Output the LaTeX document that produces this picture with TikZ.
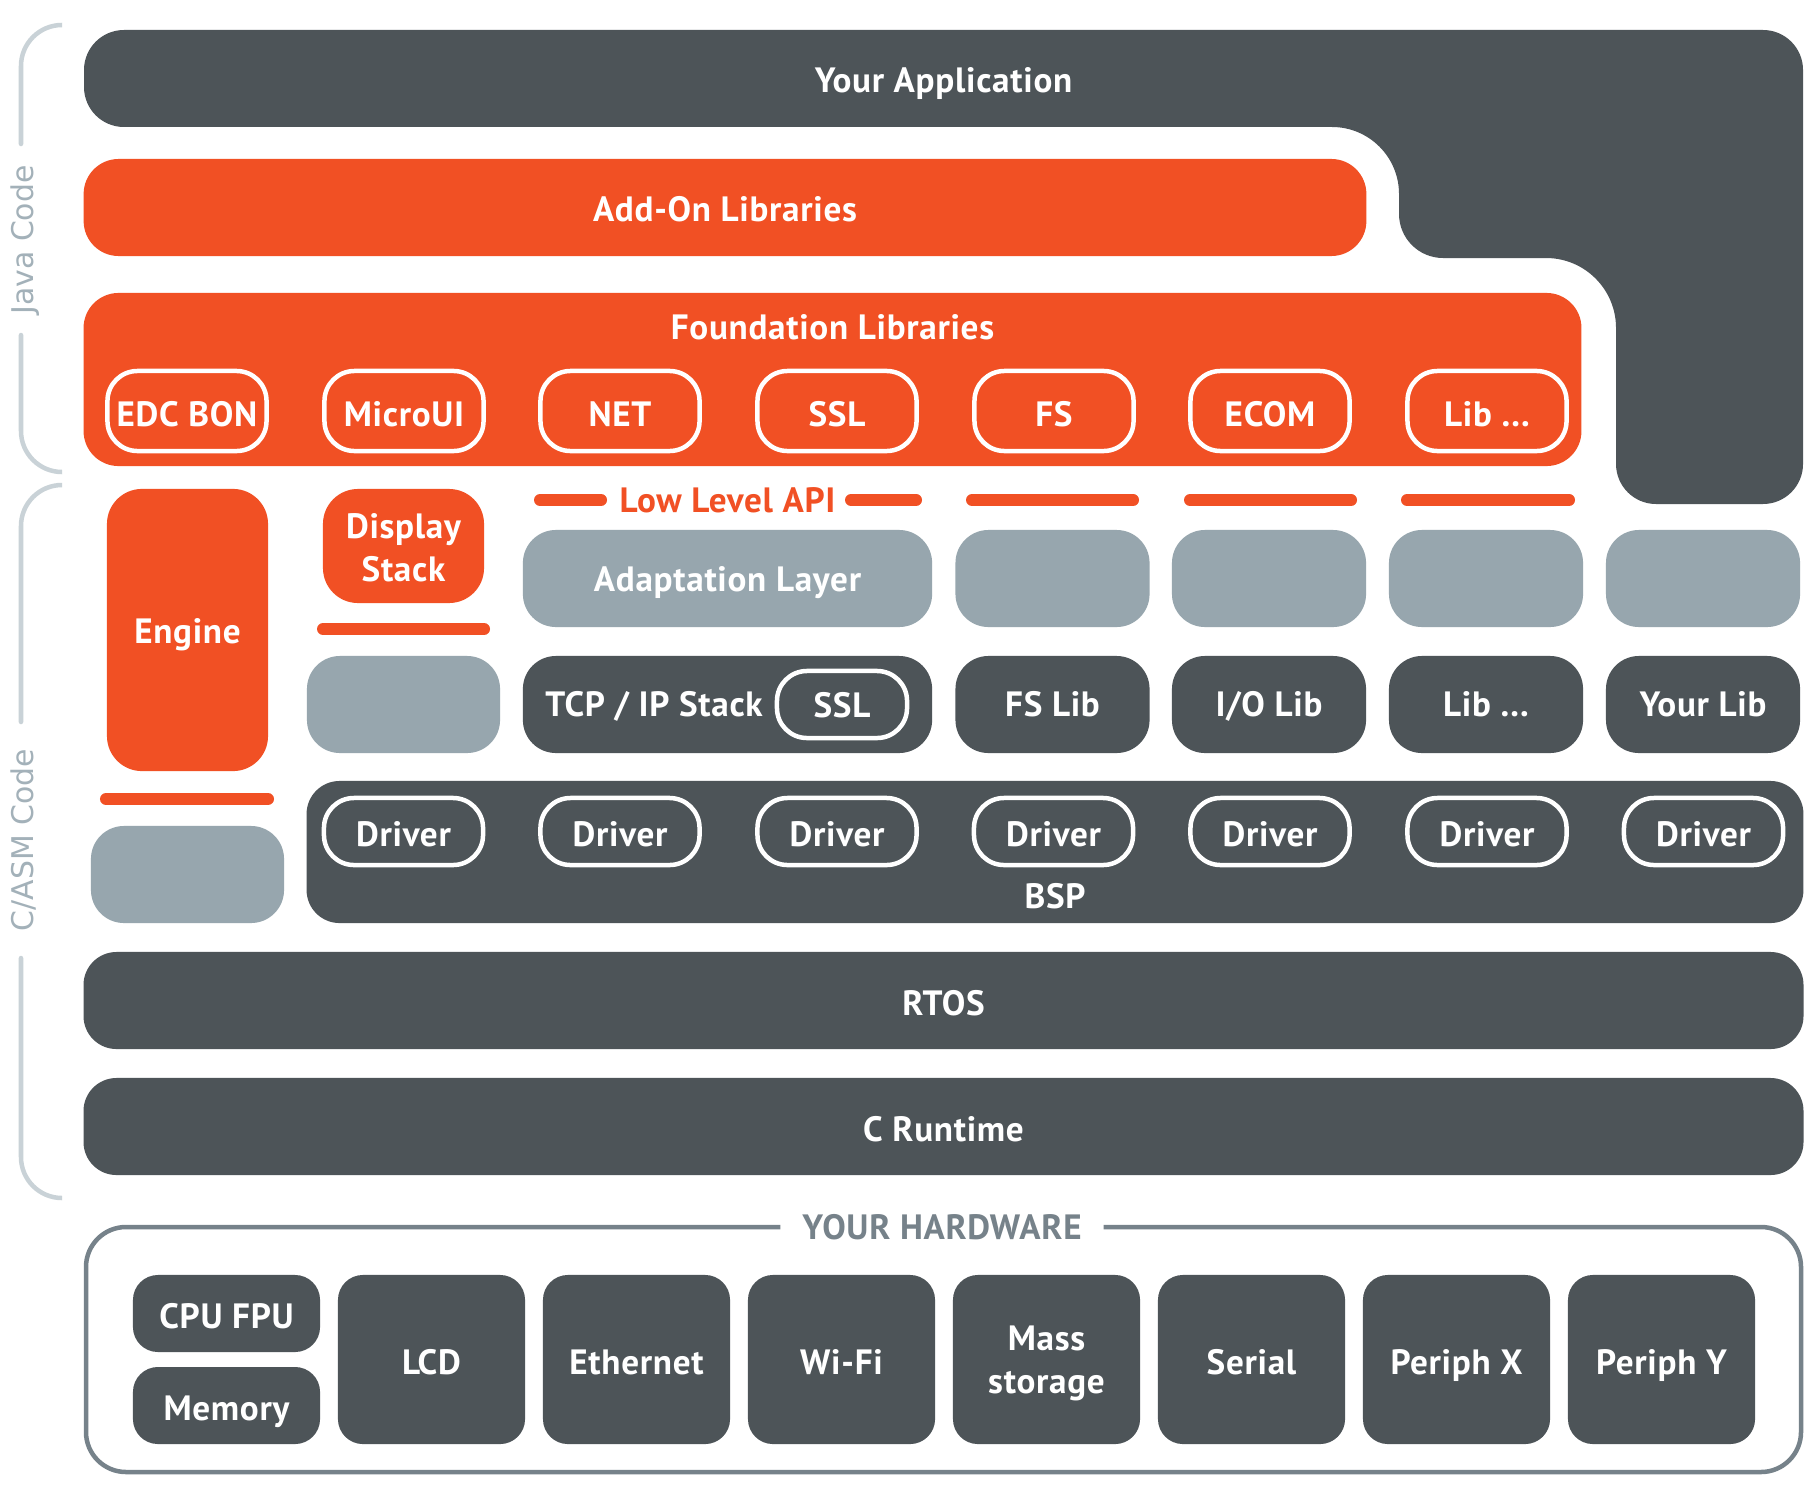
\documentclass[tikz,border=0pt]{standalone}
\usepackage{fontspec}
\setmainfont{PT Sans}
\newfontfamily\sidefont{DejaVu Sans}
\definecolor{dk}{HTML}{4D5458}
\definecolor{og}{HTML}{F15024}
\definecolor{gy}{HTML}{97A6AE}
\definecolor{br}{HTML}{C9D2D7}
\definecolor{brt}{HTML}{A3B1B9}
\definecolor{hw}{HTML}{76828A}
\newcommand\lbl{\fontsize{10pt}{12.2pt}\selectfont\bfseries\addfontfeature{LetterSpace=2}}
\begin{document}
\begin{tikzpicture}[x=0.01cm, y=-0.01cm,
 t/.style={inner sep=0pt, outer sep=0pt, font=\lbl, text=white, text height=0.30cm, text depth=0pt},
 t2/.style={inner sep=0pt, outer sep=0pt, font=\lbl, text=white, align=center},
 dkb/.style={fill=dk, rounded corners=0.33cm},
 ogb/.style={fill=og, rounded corners=0.35cm},
 gyb/.style={fill=gy, rounded corners=0.33cm},
 hwb/.style={fill=dk, rounded corners=0.25cm, minimum width=1.87cm},
 pill/.style={draw=white, line width=0.045cm, rounded corners=0.3cm},
 bar/.style={draw=og, line width=0.12cm, line cap=round},
 brk/.style={draw=br, line width=0.045cm, line cap=round},
 side/.style={inner sep=0pt, font=\sidefont\fontsize{8.5pt}{10pt}\selectfont, text=brt, rotate=90, text height=0.22cm, text depth=0pt},
 wh/.style 2 args={minimum width=#1, minimum height=#2},
]
\fill[white] (0,0) rectangle (1810,1500);
\useasboundingbox (0,0) rectangle (1810,1500);

% side brackets
\draw[brk, rounded corners=0.41cm] (62,25) -- (21,25) -- (21,144);
\draw[brk, rounded corners=0.41cm] (21,335) -- (21,472) -- (62,472);
\node[side] (java) at (22,240) {Java Code};
\draw[brk, rounded corners=0.41cm] (62,485) -- (21,485) -- (21,722);
\node[side] (casm) at (22,840) {C/ASM Code};
\draw[brk, rounded corners=0.41cm] (21,958) -- (21,1198) -- (62,1198);

% application L-shape
\fill[dk] (124,30) -- (1763,30)
  .. controls (1785.1,30) and (1803,47.9) .. (1803,70)
  -- (1803,464)
  .. controls (1803,486.1) and (1785.1,504) .. (1763,504)
  -- (1656,504)
  .. controls (1633.9,504) and (1616,486.1) .. (1616,464)
  -- (1616,328)
  .. controls (1616,289.3) and (1584.7,258) .. (1546,258)
  -- (1443,258)
  .. controls (1418.7,258) and (1399,238.3) .. (1399,214)
  -- (1399,194)
  .. controls (1399,157) and (1369,127) .. (1332,127)
  -- (124,127)
  .. controls (101.9,127) and (84,109.1) .. (84,87)
  -- (84,70)
  .. controls (84,47.9) and (101.9,30) .. (124,30) -- cycle;
\node[t] (app) at (943.5,77.5) {Your Application};

% add-on and foundation
\node[t, ogb, wh={12.82cm}{0.97cm}] (addon) at (725,207.5) {};
\node[t] (addont) at (725,206.5) {Add-On Libraries};
\node[ogb, wh={14.97cm}{1.73cm}, inner sep=0pt] (found) at (832.5,379.5) {};
\node[t] (foundt) at (832.5,324.5) {Foundation Libraries};
\node[t, pill, wh={1.59cm}{0.80cm}] (edc) at (187,411) {EDC BON};
\node[t, pill, wh={1.59cm}{0.80cm}] (mui) at (404,411) {MicroUI};
\node[t, pill, wh={1.59cm}{0.80cm}] (net) at (620,411) {NET};
\node[t, pill, wh={1.59cm}{0.80cm}] (ssl) at (837,411) {SSL};
\node[t, pill, wh={1.59cm}{0.80cm}] (fs) at (1054,411) {FS};
\node[t, pill, wh={1.59cm}{0.80cm}] (ecom) at (1270,411) {ECOM};
\node[t, pill, wh={1.59cm}{0.80cm}] (libf) at (1487,411) {Lib ...};

% low level api
\node[t, text=og] (lla) at (727.5,497) {Low Level API};
\draw[bar] (540,500) -- (601,500);
\draw[bar] (851,500) -- (916,500);
\draw[bar] (972,500) -- (1133,500);
\draw[bar] (1190,500) -- (1351,500);
\draw[bar] (1407,500) -- (1569,500);

% engine column
\node[ogb, wh={1.61cm}{2.82cm}] (engine) at (187.5,630) {};
\node[t] (enginet) at (187.5,628) {Engine};
\draw[bar] (106,799) -- (268,799);
\node[gyb, wh={1.93cm}{0.97cm}] (enggy) at (187.5,874.5) {};

% display stack column
\node[ogb, wh={1.61cm}{1.14cm}] (disp) at (403.5,546) {};
\node[t2] (dispt) at (403.5,547.5) {Display\\Stack};
\draw[bar] (323,629) -- (484,629);
\node[gyb, wh={1.93cm}{0.97cm}] (dispgy) at (403.5,704.5) {};

% adaptation layer row
\node[gyb, wh={4.09cm}{0.97cm}] (adapt) at (727.5,578.5) {};
\node[t] (adaptt) at (727.5,576.5) {Adaptation Layer};
\node[gyb, wh={1.94cm}{0.97cm}] (gya) at (1052.5,578.5) {};
\node[gyb, wh={1.94cm}{0.97cm}] (gyb2) at (1269,578.5) {};
\node[gyb, wh={1.94cm}{0.97cm}] (gyc) at (1486,578.5) {};
\node[gyb, wh={1.94cm}{0.97cm}] (gyd) at (1703,578.5) {};

% library row
\node[dkb, wh={4.09cm}{0.97cm}] (tcp) at (727.5,704.5) {};
\node[t] (tcpt) at (654,701.5) {TCP / IP Stack};
\node[pill, wh={1.30cm}{0.67cm}] (ssl2) at (842,704.5) {};
\node[t] (ssl2t) at (842,702) {SSL};
\node[dkb, wh={1.94cm}{0.97cm}] (fslib) at (1052.5,704.5) {};
\node[t] (fslibt) at (1052.5,701.5) {FS Lib};
\node[dkb, wh={1.94cm}{0.97cm}] (iolib) at (1269,704.5) {};
\node[t] (iolibt) at (1269,701.5) {I/O Lib};
\node[dkb, wh={1.94cm}{0.97cm}] (libl) at (1486,704.5) {};
\node[t] (liblt) at (1486,701.5) {Lib ...};
\node[dkb, wh={1.94cm}{0.97cm}] (yourlib) at (1703,704.5) {};
\node[t] (yourlibt) at (1703,701.5) {Your Lib};

% BSP
\node[dkb, wh={14.96cm}{1.42cm}] (bsp) at (1055,852) {};
\node[t] (bspt) at (1055,893) {BSP};
\node[t, pill, wh={1.59cm}{0.67cm}] (d1) at (403.5,831.5) {Driver};
\node[t, pill, wh={1.59cm}{0.67cm}] (d2) at (620,831.5) {Driver};
\node[t, pill, wh={1.59cm}{0.67cm}] (d3) at (837,831.5) {Driver};
\node[t, pill, wh={1.59cm}{0.67cm}] (d4) at (1053.5,831.5) {Driver};
\node[t, pill, wh={1.59cm}{0.67cm}] (d5) at (1270,831.5) {Driver};
\node[t, pill, wh={1.59cm}{0.67cm}] (d6) at (1487,831.5) {Driver};
\node[t, pill, wh={1.59cm}{0.67cm}] (d7) at (1703.5,831.5) {Driver};

% RTOS and runtime
\node[t, dkb, wh={17.19cm}{0.97cm}] (rtos) at (943.5,1000.5) {RTOS};
\node[t, dkb, wh={17.19cm}{0.97cm}] (crt) at (943.5,1126.5) {C Runtime};

% hardware
\coordinate (hwl) at (86,1227);
\node[t, text=hw, inner xsep=0.22cm] (hwt) at (942,1224) {YOUR HARDWARE};
\draw[draw=hw, line width=0.045cm, rounded corners=0.4cm] (hwt.west |- hwl) -- (hwl) -- (86,1472) -- (1801,1472) -- (1801,1227) -- (hwt.east |- hwl);
\node[t, hwb, minimum height=0.77cm] (cpu) at (226.5,1313.5) {CPU FPU};
\node[t, hwb, minimum height=0.77cm] (mem) at (226.5,1405.5) {Memory};
\node[t, hwb, minimum height=1.69cm] (lcd) at (431.5,1359.5) {LCD};
\node[t, hwb, minimum height=1.69cm] (eth) at (636.5,1359.5) {Ethernet};
\node[t, hwb, minimum height=1.69cm] (wifi) at (841.5,1359.5) {Wi-Fi};
\node[t2, hwb, minimum height=1.69cm, text depth=0pt] (mass) at (1046.5,1359.5) {Mass\\storage};
\node[t, hwb, minimum height=1.69cm] (serial) at (1251.5,1359.5) {Serial};
\node[t, hwb, minimum height=1.69cm] (px) at (1456.5,1359.5) {Periph X};
\node[t, hwb, minimum height=1.69cm] (py) at (1661.5,1359.5) {Periph Y};
\end{tikzpicture}
\end{document}
